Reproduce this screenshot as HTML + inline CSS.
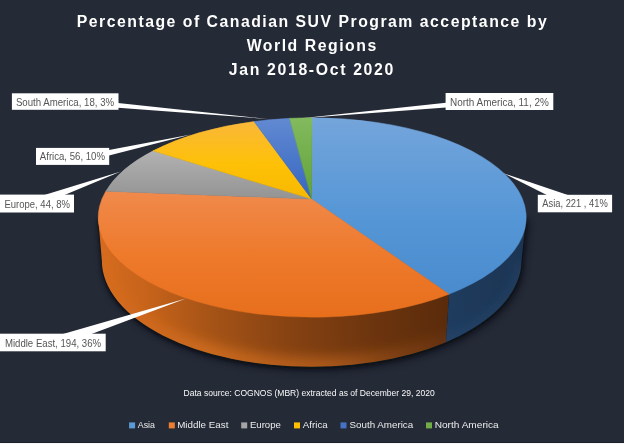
<!DOCTYPE html><html><head><meta charset="utf-8"><title>Chart</title><style>html,body{margin:0;padding:0;background:#242a36;}body{width:624px;height:444px;overflow:hidden;font-family:"Liberation Sans",sans-serif;}</style></head><body><svg width="624" height="444" viewBox="0 0 624 444" style="display:block;font-family:'Liberation Sans',sans-serif;will-change:transform;transform:translateZ(0)">
<defs>
<linearGradient id="gAsia" x1="0" y1="118" x2="0" y2="317" gradientUnits="userSpaceOnUse"><stop offset="0" stop-color="#74a5db"/><stop offset="0.5" stop-color="#5596d6"/><stop offset="1" stop-color="#4688cb"/></linearGradient>
<linearGradient id="gMe" x1="0" y1="190" x2="0" y2="317" gradientUnits="userSpaceOnUse"><stop offset="0" stop-color="#f08a4c"/><stop offset="0.5" stop-color="#ee7a2c"/><stop offset="1" stop-color="#e76f1c"/></linearGradient>
<linearGradient id="gEu" x1="0" y1="150" x2="0" y2="200" gradientUnits="userSpaceOnUse"><stop offset="0" stop-color="#b2b2b2"/><stop offset="1" stop-color="#939393"/></linearGradient>
<linearGradient id="gAf" x1="0" y1="120" x2="0" y2="200" gradientUnits="userSpaceOnUse"><stop offset="0" stop-color="#f9b73c"/><stop offset="0.55" stop-color="#fec107"/><stop offset="1" stop-color="#f6b900"/></linearGradient>
<linearGradient id="gSa" x1="0" y1="118" x2="0" y2="200" gradientUnits="userSpaceOnUse"><stop offset="0" stop-color="#628ad2"/><stop offset="1" stop-color="#3565c0"/></linearGradient>
<linearGradient id="gNa" x1="0" y1="118" x2="0" y2="200" gradientUnits="userSpaceOnUse"><stop offset="0" stop-color="#82ba5e"/><stop offset="1" stop-color="#61a238"/></linearGradient>
<linearGradient id="gSideMe" x1="98" y1="0" x2="449" y2="0" gradientUnits="userSpaceOnUse"><stop offset="0" stop-color="#d66c1f"/><stop offset="0.15" stop-color="#c5621a"/><stop offset="0.3" stop-color="#a95517"/><stop offset="0.55" stop-color="#864212"/><stop offset="0.8" stop-color="#6b340e"/><stop offset="1" stop-color="#5a2b0b"/></linearGradient>
<linearGradient id="gSideAs" x1="446" y1="0" x2="526" y2="0" gradientUnits="userSpaceOnUse"><stop offset="0" stop-color="#1f3c5e"/><stop offset="1" stop-color="#1c3452"/></linearGradient>
<linearGradient id="gSideV" x1="0" y1="300" x2="0" y2="367" gradientUnits="userSpaceOnUse"><stop offset="0" stop-color="#000" stop-opacity="0.12"/><stop offset="1" stop-color="#ff8a30" stop-opacity="0.18"/></linearGradient>
<linearGradient id="gGlow" x1="98" y1="0" x2="449" y2="0" gradientUnits="userSpaceOnUse"><stop offset="0" stop-color="#ff8a2a" stop-opacity="0.04"/><stop offset="0.12" stop-color="#ff8a2a" stop-opacity="0.12"/><stop offset="0.3" stop-color="#ff8a2a" stop-opacity="0.4"/><stop offset="0.65" stop-color="#ff8a2a" stop-opacity="0.36"/><stop offset="0.85" stop-color="#ff8a2a" stop-opacity="0.16"/><stop offset="1" stop-color="#ff8a2a" stop-opacity="0.06"/></linearGradient>
<filter id="blur1" x="-20%" y="-20%" width="140%" height="140%"><feGaussianBlur stdDeviation="2"/></filter>
<filter id="blur3" x="-20%" y="-20%" width="140%" height="140%"><feGaussianBlur stdDeviation="6"/></filter>
<filter id="blur" x="-20%" y="-20%" width="140%" height="140%"><feGaussianBlur stdDeviation="4"/></filter>

<clipPath id="cHull"><path d="M98.20,217.50 L101.85,260.60 A209.8,106.2 0 0 0 521.45,260.60 L526.20,217.50 Z"/></clipPath>
</defs>
<rect width="624" height="444" fill="#242a36"/>
<rect x="0" y="442" width="624" height="1" fill="#1b202a"/><rect x="0" y="443" width="624" height="1" fill="#f4f5f6"/>
<path d="M98.20,217.50 L101.85,260.60 A209.8,106.2 0 0 0 521.45,260.60 L526.20,217.50 Z" fill="#0c1018" opacity="0.6" filter="url(#blur)" transform="translate(2,3)"/>
<path d="M98.20,217.50 L101.85,260.60 A209.8,106.2 0 0 0 521.45,260.60 L526.20,217.50 Z" fill="#05070b" opacity="0.85" filter="url(#blur1)" transform="translate(0.5,1.5)"/>
<g clip-path="url(#cHull)">
<polygon points="0,200 449.00,200 449.00,294.17 446.00,342.17 443.00,400 0,400" fill="url(#gSideMe)"/>
<polygon points="624,200 449.00,200 449.00,294.17 446.00,342.17 443.00,400 624,400" fill="url(#gSideAs)"/>
<g filter="url(#blur3)"><path d="M101.85,260.60 A209.8,106.2 0 0 0 446.00,342.17" fill="none" stroke="url(#gGlow)" stroke-width="20"/><path d="M446.00,342.17 A209.8,106.2 0 0 0 521.45,260.60" fill="none" stroke="#3a70ad" stroke-opacity="0.12" stroke-width="14"/></g>
</g>
<path d="M311.60,199.00 L312.00,117.80 A214.0,99.7 0 0 1 449.00,294.17 Z" fill="url(#gAsia)" stroke="url(#gAsia)" stroke-width="0.5"/>
<path d="M311.60,199.00 L449.00,294.17 A214.0,99.7 0 0 1 105.80,191.17 Z" fill="url(#gMe)" stroke="url(#gMe)" stroke-width="0.5"/>
<path d="M311.60,199.00 L105.80,191.17 A214.0,99.7 0 0 1 153.00,150.87 Z" fill="url(#gEu)" stroke="url(#gEu)" stroke-width="0.5"/>
<path d="M311.60,199.00 L153.00,150.87 A214.0,99.7 0 0 1 254.00,121.56 Z" fill="url(#gAf)" stroke="url(#gAf)" stroke-width="0.5"/>
<path d="M311.60,199.00 L254.00,121.56 A214.0,99.7 0 0 1 289.60,118.36 Z" fill="url(#gSa)" stroke="url(#gSa)" stroke-width="0.5"/>
<path d="M311.60,199.00 L289.60,118.36 A214.0,99.7 0 0 1 312.00,117.80 Z" fill="url(#gNa)" stroke="url(#gNa)" stroke-width="0.5"/>
<g fill="#fff">
<polygon points="118,103 118,107.8 267.5,118.9"/>
<polygon points="109,149.9 109,155.6 191,134.6"/>
<polygon points="44.4,195 64.5,195 120.8,171.4"/>
<polygon points="63,334 91.5,334 186,298.5"/>
<polygon points="446,102.7 446,107.6 301.5,118.2"/>
<polygon points="547.8,195.5 569.3,195.5 503.5,173.2"/>
</g>
<rect x="11.9" y="93.3" width="106.6" height="16.5" fill="#fff"/><text x="15.9" y="105.8" font-size="10.5" fill="#555" textLength="98.2" lengthAdjust="spacingAndGlyphs">South America, 18, 3%</text>
<rect x="36" y="147.9" width="73.2" height="17" fill="#fff"/><text x="39.8" y="160.3" font-size="10.5" fill="#555" textLength="65.2" lengthAdjust="spacingAndGlyphs">Africa, 56, 10%</text>
<rect x="0" y="194.6" width="74" height="17.9" fill="#fff"/><text x="4.5" y="207.6" font-size="10.5" fill="#555" textLength="65.4" lengthAdjust="spacingAndGlyphs">Europe, 44, 8%</text>
<rect x="0" y="333.7" width="105.7" height="17.6" fill="#fff"/><text x="4.9" y="346.5" font-size="10.5" fill="#555" textLength="96.2" lengthAdjust="spacingAndGlyphs">Middle East, 194, 36%</text>
<rect x="445.6" y="93" width="107.7" height="17" fill="#fff"/><text x="450" y="105.5" font-size="10.5" fill="#555" textLength="98.8" lengthAdjust="spacingAndGlyphs">North America, 11, 2%</text>
<rect x="537.8" y="194.8" width="74.3" height="17.5" fill="#fff"/><text x="542.3" y="206.9" font-size="10.5" fill="#555" textLength="65.4" lengthAdjust="spacingAndGlyphs">Asia, 221 , 41%</text>
<g fill="#fff" font-weight="bold" font-size="15.8">
<text x="76.7" y="27.4" textLength="470" lengthAdjust="spacing">Percentage of Canadian SUV Program acceptance by</text>
<text x="246.7" y="51.1" textLength="129.5" lengthAdjust="spacing">World Regions</text>
<text x="228.8" y="74.7" textLength="164.5" lengthAdjust="spacing">Jan 2018-Oct 2020</text>
</g>
<text x="183.5" y="396" font-size="9" fill="#fafafa" textLength="251.2" lengthAdjust="spacingAndGlyphs">Data source: COGNOS (MBR) extracted as of December 29, 2020</text>
<rect x="129.1" y="422.4" width="6" height="6" fill="#5b9bd5"/>
<text x="137.8" y="428.3" font-size="9.8" fill="#ececec" textLength="17.2" lengthAdjust="spacingAndGlyphs">Asia</text>
<rect x="168.8" y="422.4" width="6" height="6" fill="#ed7d31"/>
<text x="177.2" y="428.3" font-size="9.8" fill="#ececec" textLength="51.2" lengthAdjust="spacingAndGlyphs">Middle East</text>
<rect x="241.2" y="422.4" width="6" height="6" fill="#a5a5a5"/>
<text x="249.9" y="428.3" font-size="9.8" fill="#ececec" textLength="31" lengthAdjust="spacingAndGlyphs">Europe</text>
<rect x="294" y="422.4" width="6" height="6" fill="#ffc000"/>
<text x="302.8" y="428.3" font-size="9.8" fill="#ececec" textLength="24.9" lengthAdjust="spacingAndGlyphs">Africa</text>
<rect x="340.5" y="422.4" width="6" height="6" fill="#4472c4"/>
<text x="349.6" y="428.3" font-size="9.8" fill="#ececec" textLength="63.6" lengthAdjust="spacingAndGlyphs">South America</text>
<rect x="426" y="422.4" width="6" height="6" fill="#70ad47"/>
<text x="434.7" y="428.3" font-size="9.8" fill="#ececec" textLength="64" lengthAdjust="spacingAndGlyphs">North America</text>
</svg></body></html>
